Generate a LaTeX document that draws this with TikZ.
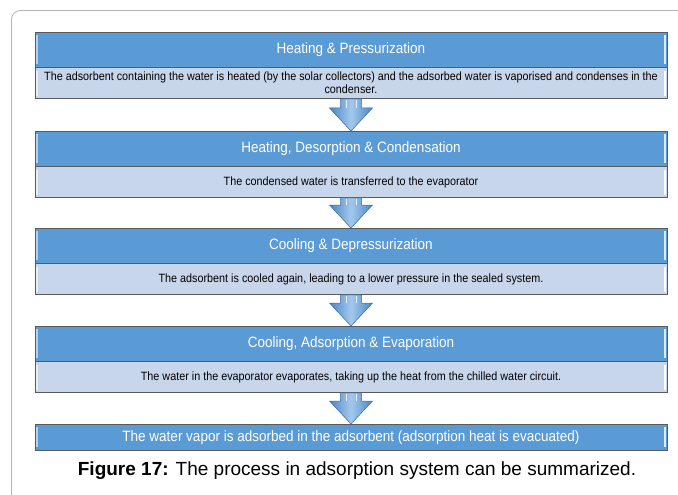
\documentclass[tikz,border=0pt]{standalone}
\usepackage{fontspec}
\setmainfont{Liberation Sans}
\newfontfamily\narrowfont[FakeStretch=0.9]{Liberation Sans}
\usetikzlibrary{calc}
\definecolor{headblue}{HTML}{5B9BD5}
\definecolor{bodyblue}{HTML}{C8D6EC}
\definecolor{boxline}{HTML}{5A5A5A}
\definecolor{arrowdark}{HTML}{4A86C5}
\definecolor{arrowlight}{HTML}{A3C8EC}
\definecolor{framegray}{HTML}{B4B4B4}

\begin{document}
\begin{tikzpicture}[x=1pt,y=-1pt]
\tikzstyle{hilite}=[line width=1.2pt]
\tikzstyle{head}=[draw=boxline,fill=headblue,text=white,minimum width=632pt,minimum height=35pt,anchor=north,inner sep=0pt,font=\narrowfont\fontsize{15}{17}\selectfont,
  path picture={\draw[hilite,white!55!headblue] ([xshift=2pt,yshift=-3pt]path picture bounding box.north west) -- ([xshift=2pt,yshift=3pt]path picture bounding box.south west);
  \draw[hilite,white!80!headblue] ([xshift=-2pt,yshift=-3pt]path picture bounding box.north east) -- ([xshift=-2pt,yshift=3pt]path picture bounding box.south east);}]
\tikzstyle{body}=[draw=boxline,fill=bodyblue,text=black,minimum width=632pt,minimum height=31pt,anchor=north,inner sep=0pt,align=center,font=\narrowfont\fontsize{12}{13}\selectfont,
  path picture={\draw[hilite,white!60!bodyblue] ([xshift=2pt,yshift=-3pt]path picture bounding box.north west) -- ([xshift=2pt,yshift=3pt]path picture bounding box.south west);
  \draw[hilite,white] ([xshift=-2pt,yshift=-3pt]path picture bounding box.north east) -- ([xshift=-2pt,yshift=3pt]path picture bounding box.south east);}]
\tikzstyle{flowarrow}=[draw=arrowdark!80!black,line width=0.5pt,left color=arrowdark,right color=arrowdark,middle color=arrowlight]
\tikzstyle{shaftline}=[white!75!arrowlight,line width=0.8pt]

\useasboundingbox (0,0) rectangle (678,495);
\clip (0,0) rectangle (678,495);
\fill[white] (0,0) rectangle (678,495);
\draw[framegray,line width=0.8pt,rounded corners=9pt] (700,10.5) -- (11.5,10.5) -- (11.5,520);

% steps of the cycle
\path (351,32) node[head](h1){Heating \& Pressurization};
\path (h1.south) node[body](b1){The adsorbent containing the water is heated (by the solar collectors) and the adsorbed water is vaporised and condenses in the\\condenser.};
\path (351,131) node[head](h2){Heating, Desorption \& Condensation};
\path (h2.south) node[body](b2){The condensed water is transferred to the evaporator};
\path (351,228) node[head](h3){Cooling \& Depressurization};
\path (h3.south) node[body](b3){The adsorbent is cooled again, leading to a lower pressure in the sealed system.};
\path (351,326) node[head](h4){Cooling, Adsorption \& Evaporation};
\path (h4.south) node[body](b4){The water in the evaporator evaporates, taking up the heat from the chilled water circuit.};
\path (351,424) node[head,minimum height=26pt,font=\narrowfont\fontsize{15}{17}\selectfont](last){The water vapor is adsorbed in the adsorbent (adsorption heat is evacuated)};

% block arrows
\draw[flowarrow] ($(b1.south)+(-10.5,0)$) -- ($(h2.north)+(-10.5,-23)$) -- ($(h2.north)+(-21.5,-23)$) -- (h2.north) -- ($(h2.north)+(21.5,-23)$) -- ($(h2.north)+(10.5,-23)$) -- ($(b1.south)+(10.5,0)$) -- cycle;
\draw[shaftline] ($(b1.south)+(-5,1)$) -- ($(h2.north)+(-5,-23)$) ($(b1.south)+(5,1)$) -- ($(h2.north)+(5,-23)$);
\draw[flowarrow] ($(b2.south)+(-10.5,0)$) -- ($(h3.north)+(-10.5,-23)$) -- ($(h3.north)+(-21.5,-23)$) -- (h3.north) -- ($(h3.north)+(21.5,-23)$) -- ($(h3.north)+(10.5,-23)$) -- ($(b2.south)+(10.5,0)$) -- cycle;
\draw[shaftline] ($(b2.south)+(-5,1)$) -- ($(h3.north)+(-5,-23)$) ($(b2.south)+(5,1)$) -- ($(h3.north)+(5,-23)$);
\draw[flowarrow] ($(b3.south)+(-10.5,0)$) -- ($(h4.north)+(-10.5,-23)$) -- ($(h4.north)+(-21.5,-23)$) -- (h4.north) -- ($(h4.north)+(21.5,-23)$) -- ($(h4.north)+(10.5,-23)$) -- ($(b3.south)+(10.5,0)$) -- cycle;
\draw[shaftline] ($(b3.south)+(-5,1)$) -- ($(h4.north)+(-5,-23)$) ($(b3.south)+(5,1)$) -- ($(h4.north)+(5,-23)$);
\draw[flowarrow] ($(b4.south)+(-10.5,0)$) -- ($(last.north)+(-10.5,-23)$) -- ($(last.north)+(-21.5,-23)$) -- (last.north) -- ($(last.north)+(21.5,-23)$) -- ($(last.north)+(10.5,-23)$) -- ($(b4.south)+(10.5,0)$) -- cycle;
\draw[shaftline] ($(b4.south)+(-5,1)$) -- ($(last.north)+(-5,-23)$) ($(b4.south)+(5,1)$) -- ($(last.north)+(5,-23)$);

\path (357,471) node[font=\fontsize{19}{22}\selectfont](cap){\textbf{Figure 17:} The process in adsorption system can be summarized.};
\end{tikzpicture}
\end{document}
